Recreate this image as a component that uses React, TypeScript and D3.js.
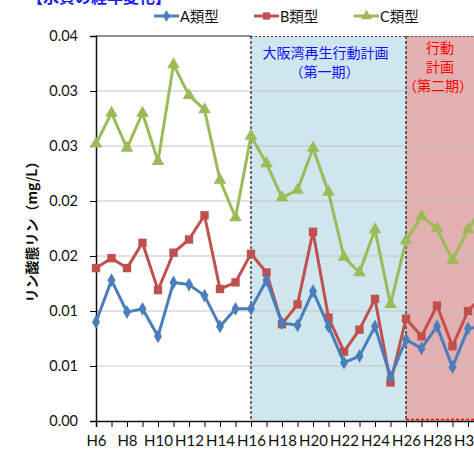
import React, { useRef, useEffect } from 'react';
import * as d3 from 'd3';

// 年度 (平成)
const years = [6, 7, 8, 9, 10, 11, 12, 13, 14, 15, 16, 17, 18, 19, 20, 21, 22, 23, 24, 25, 26, 27, 28, 29, 30, 31];

const typeA = [0.009, 0.0128, 0.0099, 0.0102, 0.0077, 0.0126, 0.0124, 0.0114, 0.0086, 0.0102, 0.0102, 0.0128, 0.0089, 0.0087, 0.0118, 0.0086, 0.0053, 0.0059, 0.0086, 0.004, 0.0074, 0.0066, 0.0086, 0.0049, 0.0084, 0.0086];
const typeB = [0.0139, 0.0148, 0.0139, 0.0162, 0.0119, 0.0153, 0.0165, 0.0187, 0.012, 0.0126, 0.0152, 0.0135, 0.0088, 0.0106, 0.0172, 0.0094, 0.0063, 0.0083, 0.0111, 0.0035, 0.0093, 0.0077, 0.0105, 0.0068, 0.01, 0.0115];
const typeC = [0.0252, 0.028, 0.0248, 0.028, 0.0236, 0.0324, 0.0296, 0.0283, 0.0219, 0.0185, 0.0259, 0.0234, 0.0203, 0.021, 0.0248, 0.0208, 0.0149, 0.0135, 0.0174, 0.0106, 0.0164, 0.0186, 0.0175, 0.0146, 0.0174, 0.0196];

const yTicks = [0, 0.005, 0.01, 0.015, 0.02, 0.025, 0.03, 0.035];
const yTickLabels = ['0.00', '0.01', '0.01', '0.02', '0.02', '0.03', '0.03', '0.04'];

const seriesNames = ['A類型', 'B類型', 'C類型'];

// 計画期間
const phase1 = [16, 26];
const phase2 = [26, 36];

const App = () => {
  const ref = useRef<SVGSVGElement | null>(null);
  const width = 474;
  const height = 449;
  const margin = { top: 36, left: 96, bottom: 28 };

  useEffect(() => {
    if (!ref.current) return;
    const svg = d3.select(ref.current);
    svg.selectAll('*').remove();

    const x = d3.scaleLinear().domain([6, 31]).range([margin.left, margin.left + 25 * 15.5]);
    const y = d3.scaleLinear().domain([0, 0.035]).range([height - margin.bottom, margin.top]);
    const font = "Lato, 'Noto Sans CJK JP', sans-serif";
    const jp = "'Noto Sans CJK JP', sans-serif";

    // 計画期間の背景
    svg.append('rect')
      .attr('x', x(phase1[0])).attr('y', y(0.035))
      .attr('width', x(phase1[1]) - x(phase1[0])).attr('height', y(0) - y(0.035))
      .attr('fill', '#cfe6ee');
    svg.append('rect')
      .attr('x', x(phase2[0])).attr('y', y(0.035))
      .attr('width', x(phase2[1]) - x(phase2[0])).attr('height', y(0) - y(0.035))
      .attr('fill', '#e2b0b0');

    // グリッド
    svg.append('g')
      .selectAll('line')
      .data(yTicks.slice(1, -1))
      .join('line')
      .attr('x1', margin.left).attr('x2', width)
      .attr('y1', (d) => y(d)).attr('y2', (d) => y(d))
      .attr('stroke', '#c4c4c4');

    // 枠線
    svg.append('line')
      .attr('x1', margin.left).attr('x2', x(phase1[0]))
      .attr('y1', y(0.035)).attr('y2', y(0.035))
      .attr('stroke', '#222').attr('stroke-width', 1.2);
    svg.append('line')
      .attr('x1', x(phase1[0])).attr('x2', width)
      .attr('y1', y(0.035) + 0.5).attr('y2', y(0.035) + 0.5)
      .attr('stroke', '#555').attr('stroke-dasharray', '2 2');
    [phase1[0], phase2[0]].forEach((p) => {
      svg.append('line')
        .attr('x1', x(p)).attr('x2', x(p))
        .attr('y1', y(0.035)).attr('y2', y(0))
        .attr('stroke', '#111').attr('stroke-width', 1.2).attr('stroke-dasharray', '3 2');
    });
    svg.append('line')
      .attr('x1', x(phase2[0])).attr('x2', width)
      .attr('y1', y(0) - 1.5).attr('y2', y(0) - 1.5)
      .attr('stroke', '#ff0000').attr('stroke-width', 1.5).attr('stroke-dasharray', '3 2');

    // 軸
    const yAxis = svg.append('g')
      .attr('transform', `translate(${margin.left},0)`)
      .call(d3.axisLeft(y).tickValues(yTicks).tickSize(6).tickPadding(12)
        .tickFormat((_, i) => yTickLabels[i]));
    yAxis.selectAll('text').attr('font-size', 14.5).attr('font-family', font).attr('fill', '#111');
    yAxis.select('.domain').attr('stroke', '#111').attr('stroke-width', 1.5);

    const xAxis = svg.append('g')
      .attr('transform', `translate(0,${y(0)})`)
      .call(d3.axisBottom(x).tickValues(years).tickSize(6).tickPadding(8)
        .tickFormat((d) => ((d as number) % 2 === 0 ? `H${d}` : '')));
    xAxis.selectAll('text').attr('font-size', 15).attr('font-family', font).attr('fill', '#111');
    xAxis.select('.domain').attr('stroke', '#111').attr('stroke-width', 1.5);

    // 計画名
    const t1 = svg.append('text').attr('font-family', jp).attr('font-size', 14).attr('fill', '#1010ff').attr('text-anchor', 'middle');
    t1.append('tspan').attr('x', (x(phase1[0]) + x(phase1[1])) / 2 - 3).attr('y', 58).text('大阪湾再生行動計画');
    t1.append('tspan').attr('x', (x(phase1[0]) + x(phase1[1])) / 2 - 4).attr('y', 77).text('（第一期）');
    const t2 = svg.append('text').attr('font-family', jp).attr('font-size', 14).attr('fill', '#ff0000').attr('text-anchor', 'middle');
    t2.append('tspan').attr('x', 440).attr('y', 53).text('行動');
    t2.append('tspan').attr('x', 440).attr('y', 72).text('計画');
    t2.append('tspan').attr('x', 438).attr('y', 91).text('（第二期）');

    // 系列
    const series = [
      { name: seriesNames[0], values: typeA, color: '#4a7ebb', symbol: d3.symbolDiamond, size: 55 },
      { name: seriesNames[1], values: typeB, color: '#c0504d', symbol: d3.symbolSquare, size: 70 },
      { name: seriesNames[2], values: typeC, color: '#9bbb59', symbol: d3.symbolTriangle, size: 70 },
    ];
    const line = d3.line<number>().x((_, i) => x(years[i])).y((d) => y(d));

    series.slice().reverse().forEach((s) => {
      const g = svg.append('g');
      g.append('path')
        .datum(s.values)
        .attr('fill', 'none')
        .attr('stroke', s.color)
        .attr('stroke-width', 3)
        .attr('stroke-linejoin', 'round')
        .attr('d', line);
      g.selectAll('path.m')
        .data(s.values)
        .join('path')
        .attr('class', 'm')
        .attr('transform', (d, i) => `translate(${x(years[i])},${y(d)})`)
        .attr('d', d3.symbol().type(s.symbol).size(s.size)())
        .attr('fill', s.color);
    });

    // 凡例
    series.forEach((s, i) => {
      const lx = 154 + i * 100;
      const g = svg.append('g').attr('transform', `translate(${lx},16)`);
      g.append('line').attr('x1', 0).attr('x2', 25).attr('stroke', s.color).attr('stroke-width', 3);
      g.append('path').attr('transform', 'translate(12.5,0)')
        .attr('d', d3.symbol().type(s.symbol).size(s.size * 0.75)())
        .attr('fill', s.color);
      g.append('text').attr('x', 26).attr('y', 5.5)
        .attr('font-family', font).attr('font-size', 14.5).attr('fill', '#111')
        .text(s.name);
    });

    // 軸タイトル
    svg.append('text')
      .attr('transform', `translate(37,${(y(0) + y(0.035)) / 2}) rotate(-90)`)
      .attr('text-anchor', 'middle')
      .attr('font-family', jp).attr('font-size', 14).attr('font-weight', 'bold').attr('fill', '#111')
      .text('リン酸態リン（mg/L）');

    // 上部の見出し (切れている)
    svg.append('text')
      .attr('x', 27).attr('y', 3)
      .attr('font-family', jp).attr('font-size', 16).attr('font-weight', 'bold').attr('fill', '#1a1aff')
      .text('【水質の経年変化】');
  }, []);

  return (
    <div style={{ position: 'absolute', left: 0, top: 0 }}>
      <svg ref={ref} width={width} height={height} style={{ display: 'block', background: '#fff' }} />
    </div>
  );
};

export default App;
